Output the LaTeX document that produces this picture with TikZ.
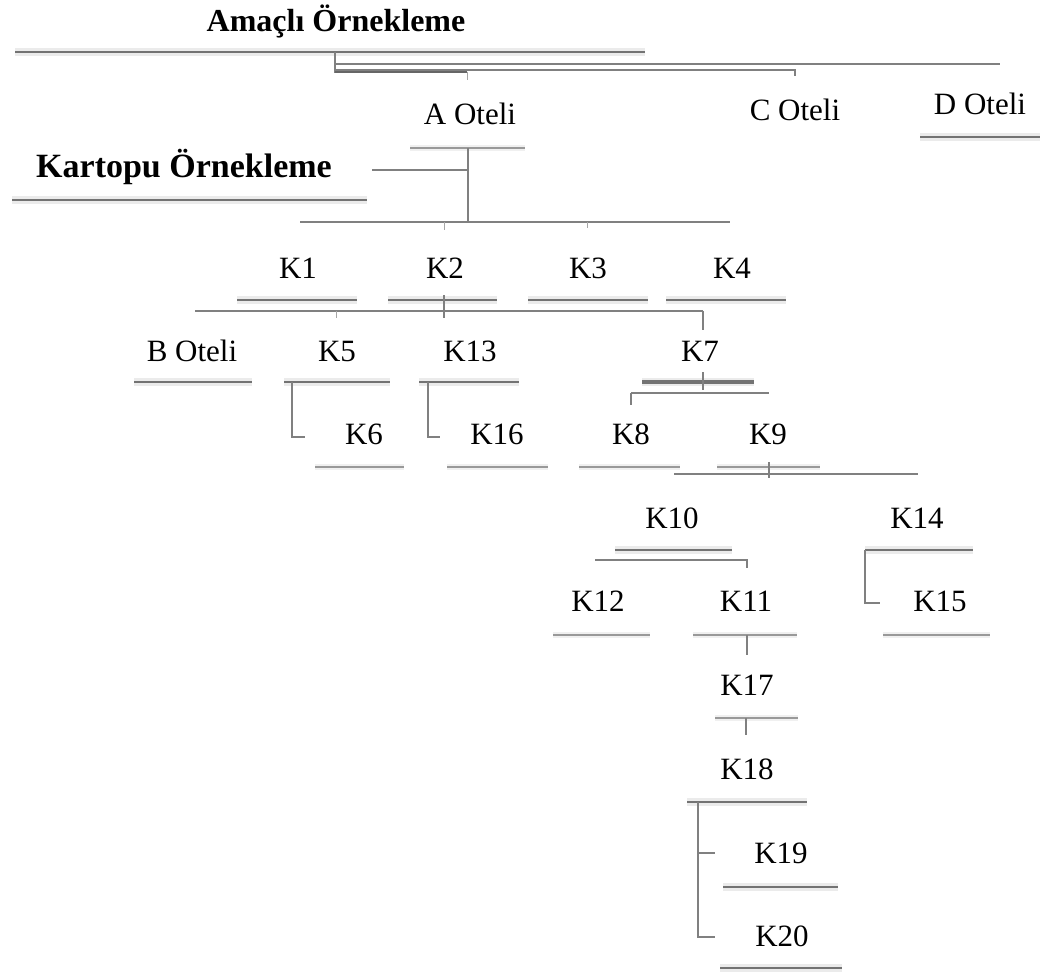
\documentclass[tikz,border=0pt]{standalone}
\usepackage{fontspec}
\setmainfont{Liberation Serif}
\begin{document}
\begin{tikzpicture}[x=1pt,y=-1pt,
 lbl/.style={anchor=base,inner sep=0pt,font=\fontsize{31}{33}\selectfont},
 blbl/.style={anchor=base,inner sep=0pt,font=\fontsize{32}{34}\selectfont\bfseries},
 uline/.style={draw=black!55,line width=2.4pt,preaction={draw=black!8,line width=8pt}},
 thinline/.style={draw=black!40,line width=1.4pt,preaction={draw=black!6,line width=6pt}},
 conn/.style={draw=black!50,line width=1.1pt},
 tick/.style={draw=black!35,line width=1pt},
]
\useasboundingbox[fill=white] (0,0) rectangle (1057,974);

% ---------- labels ----------
\node[blbl] (amacli) at (336,32) {Amaçlı Örnekleme};
\node[lbl] (aotel) at (470,124) {A Oteli};
\node[lbl] (cotel) at (795,120) {C Oteli};
\node[lbl] (dotel) at (980,114) {D Oteli};
\node[blbl,font=\fontsize{34}{36}\selectfont\bfseries] (kartopu) at (184,177) {Kartopu Örnekleme};
\node[lbl] (k1) at (298,278) {K1};
\node[lbl] (k2) at (445,278) {K2};
\node[lbl] (k3) at (588,278) {K3};
\node[lbl] (k4) at (732,278) {K4};
\node[lbl] (botel) at (192,361) {B Oteli};
\node[lbl] (k5) at (337,361) {K5};
\node[lbl] (k13) at (470,361) {K13};
\node[lbl] (k7) at (700,361) {K7};
\node[lbl] (k6) at (364,444) {K6};
\node[lbl] (k16) at (497,444) {K16};
\node[lbl] (k8) at (631,444) {K8};
\node[lbl] (k9) at (768,444) {K9};
\node[lbl] (k10) at (672,528) {K10};
\node[lbl] (k14) at (917,528) {K14};
\node[lbl] (k12) at (598,611) {K12};
\node[lbl] (k11) at (746,611) {K11};
\node[lbl] (k15) at (940,611) {K15};
\node[lbl] (k17) at (747,695) {K17};
\node[lbl] (k18) at (747,779) {K18};
\node[lbl] (k19) at (781,863) {K19};
\node[lbl] (k20) at (782,946) {K20};

% ---------- underlines ----------
\draw[uline] (15,52) -- (645,52);
\draw[uline] (920,137) -- (1040,137);
\draw[thinline] (410,148) -- (525,148);
\draw[uline] (12,200) -- (367,200);
\draw[uline] (237,300) -- (357,300);
\draw[uline] (388,300) -- (497,300);
\draw[uline] (528,300) -- (648,300);
\draw[uline] (666,300) -- (786,300);
\draw[uline] (134,382) -- (252,382);
\draw[uline] (284,382) -- (390,382);
\draw[uline] (419,382) -- (519,382);
\draw[uline,line width=3.4pt] (642,382) -- (754,382);
\draw[thinline] (315,467) -- (404,467);
\draw[thinline] (447,467) -- (548,467);
\draw[thinline] (579,467) -- (680,467);
\draw[thinline] (717,467) -- (820,467);
\draw[uline] (615,550) -- (732,550);
\draw[uline] (865,550) -- (973,550);
\draw[thinline] (553,635) -- (650,635);
\draw[thinline] (693,635) -- (797,635);
\draw[thinline] (883,635) -- (990,635);
\draw[thinline] (715,718) -- (798,718);
\draw[uline] (687,802) -- (807,802);
\draw[uline] (723,887) -- (838,887);
\draw[uline] (720,968) -- (842,968);

% ---------- connectors ----------
% Amaçlı Örnekleme -> A, C, D Oteli
\coordinate (j0) at (335,52);
\coordinate (jd) at (1000,64);
\coordinate (jc) at (795,70);
\coordinate (ja) at (467,72);
\draw[conn] (j0) -- (335,73);
\draw[conn] (335,64) -- (jd);
\draw[conn] (335,70) -- (jc) -- (795,76);
\draw[conn,draw=black!60,line width=2.4pt] (335,72) -- (ja);
\draw[tick] (ja) -- (467,80);

% A Oteli -> Kartopu, K1..K4
\coordinate (ja1) at (468,148);
\coordinate (ja2) at (468,222);
\draw[conn] (ja1) -- (ja2);
\draw[conn] (372,170) -- (468,170);
\draw[conn] (300,222) -- (730,222);
\draw[tick] (444,222) -- (444,230);
\draw[tick] (587,222) -- (587,228);

% K2 -> B Oteli, K5, K13, K7
\draw[conn] (195,311) -- (703,311);
\draw[conn] (444,295) -- (444,318);
\draw[tick] (336,311) -- (336,318);
\draw[conn] (703,311) -- (703,330);

% K5 -> K6, K13 -> K16
\draw[conn] (292,382) -- (292,437) -- (305,437);
\draw[conn] (428,382) -- (428,437) -- (440,437);

% K7 -> K8, K9
\draw[conn] (703,372) -- (703,390);
\draw[conn] (631,393) -- (769,393);
\draw[conn] (631,393) -- (631,405);

% K9 -> K10, K14
\draw[conn] (674,474) -- (918,474);
\draw[conn] (769,462) -- (769,478);

% K10 -> K12, K11
\draw[conn] (595,560) -- (747,560) -- (747,568);
% K14 -> K15
\draw[conn] (865,550) -- (865,603) -- (880,603);

% K11 -> K17 -> K18
\draw[conn] (747,635) -- (747,655);
\draw[conn] (746,718) -- (746,735);

% K18 -> K19, K20
\draw[conn] (698,802) -- (698,937) -- (715,937);
\draw[conn] (698,853) -- (715,853);
\end{tikzpicture}
\end{document}
